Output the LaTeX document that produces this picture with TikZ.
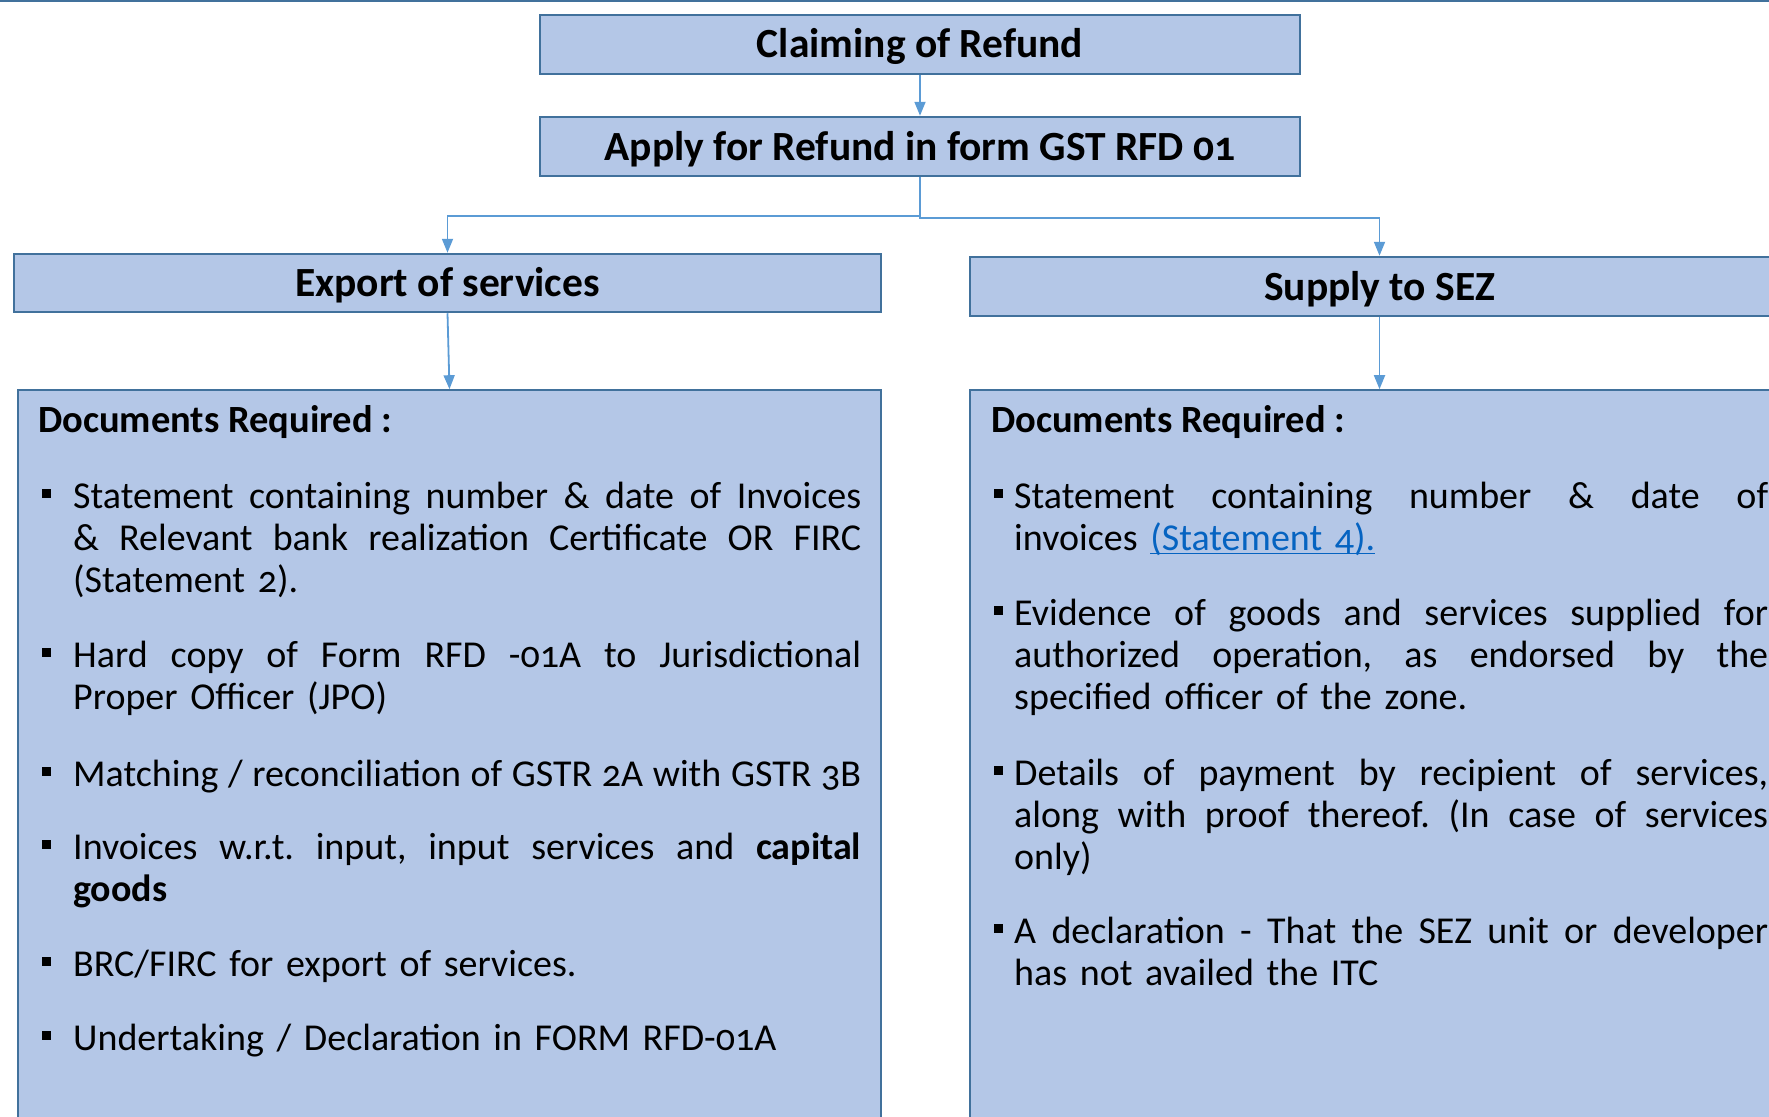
\documentclass[tikz,border=0pt]{standalone}
\usepackage{fontspec}
\setmainfont{Carlito}[Numbers=OldStyle]
\usetikzlibrary{arrows.meta}

\definecolor{boxfill}{HTML}{B4C7E7}
\definecolor{boxedge}{HTML}{41719C}
\definecolor{linkline}{HTML}{5B9BD5}
\definecolor{linkblue}{HTML}{0563C1}

% one justified line, its word spaces spread to the column width \jw
\newcommand\jw{788pt}
\newcommand\jl[1]{\leavevmode\hbox to \jw{\spaceskip=\fontdimen2\font plus 1fil minus .4\fontdimen2\font
  \xspaceskip=\spaceskip #1}}
% underlined hyperlink text
\newcommand\lnk[1]{{\color{linkblue}\setbox0\hbox{#1}\rlap{\rule[-4pt]{\wd0}{1.5pt}}\box0}}

\tikzset{
  titlebox/.style={draw=boxedge, line width=2.5pt, fill=boxfill, inner sep=0pt,
    text height=30pt, text depth=3pt,
    font=\fontsize{41.5}{48}\selectfont\bfseries},
  docbox/.style={draw=boxedge, line width=1.6pt, fill=boxfill, inner sep=0pt},
  flow/.style={draw=linkline, line width=1.8pt, -{Triangle[length=14pt,width=11pt]}},
  head/.style={anchor=base west, inner sep=0pt, font=\fontsize{38.5}{42}\selectfont\bfseries},
  itemL/.style={anchor=base west, inner sep=0pt, text width=800pt,
    font=\fontsize{38}{42}\selectfont\frenchspacing\renewcommand\jw{788pt}},
  itemR/.style={anchor=base west, inner sep=0pt, text width=754pt,
    font=\fontsize{38}{42}\selectfont\frenchspacing\renewcommand\jw{754pt}},
}

\begin{document}
\begin{tikzpicture}[x=1pt, y=-1pt]
\useasboundingbox (0,0) rectangle (1769,1116);
\draw[draw=boxedge, line width=2pt] (0,1) -- (1769,1);

% header boxes
\node[titlebox, minimum width=760pt, minimum height=59pt] (claim) at (920,44.5) {Claiming of Refund};
\node[titlebox, minimum width=760pt, minimum height=59pt] (apply) at (920,146.5) {Apply for Refund in form GST RFD 01};
\node[titlebox, minimum width=867pt, minimum height=58pt] (exp) at (447.5,283) {Export of services};
\node[titlebox, minimum width=819pt, minimum height=59pt] (sez) at (1379.5,286.5) {Supply to SEZ};

% document boxes
\node[docbox, minimum width=863pt, minimum height=740pt] (docL) at (449.5,760) {};
\node[docbox, minimum width=819pt, minimum height=740pt] (docR) at (1379.5,760) {};

% connectors
\draw[flow] (claim) -- (apply);
\draw[flow] (apply.south) -- ++(0,39) -| (exp.north);
\draw[flow] (apply.south) -- ++(0,41) -| (sez.north);
\draw[flow] (exp.south) -- (docL.north);
\draw[flow] (sez.south) -- (docR.north);

% left column
\node[head] (hL) at (38,432) {Documents Required :};
\foreach \y in {508,667,786,859,976,1050}
  \fill (42,\y-19) rectangle ++(9,9);
\node[itemL] (a1) at (73,508) {\jl{Statement containing number \& date of Invoices}\\
  \jl{\& Relevant bank realization Certificate OR FIRC}\\(Statement 2).};
\node[itemL] (a2) at (73,667) {\jl{Hard copy of Form RFD -01A to Jurisdictional}\\Proper Officer (JPO)};
\node[itemL] (a3) at (73,786) {\jl{Matching / reconciliation of GSTR 2A with GSTR 3B}};
\node[itemL] (a4) at (73,859) {\jl{Invoices w.r.t. input, input services and \textbf{capital}}\\\textbf{goods}};
\node[itemL] (a5) at (73,976) {BRC/FIRC for export of services.};
\node[itemL] (a6) at (73,1050) {Undertaking / Declaration in FORM RFD-01A};

% right column
\node[head] (hR) at (991,432) {Documents Required :};
\foreach \y in {508,625,785,943}
  \fill (994,\y-19) rectangle ++(9,9);
\node[itemR] (b1) at (1014,508) {\jl{Statement containing number \& date of}\\
  invoices \lnk{(Statement 4).}};
\node[itemR] (b2) at (1014,625) {\jl{Evidence of goods and services supplied for}\\
  \jl{authorized operation, as endorsed by the}\\specified officer of the zone.};
\node[itemR] (b3) at (1014,785) {\jl{Details of payment by recipient of services,}\\
  \jl{along with proof thereof. (In case of services}\\only)};
\node[itemR] (b4) at (1014,943) {\jl{A declaration - That the SEZ unit or developer}\\has not availed the ITC};
\end{tikzpicture}
\end{document}
